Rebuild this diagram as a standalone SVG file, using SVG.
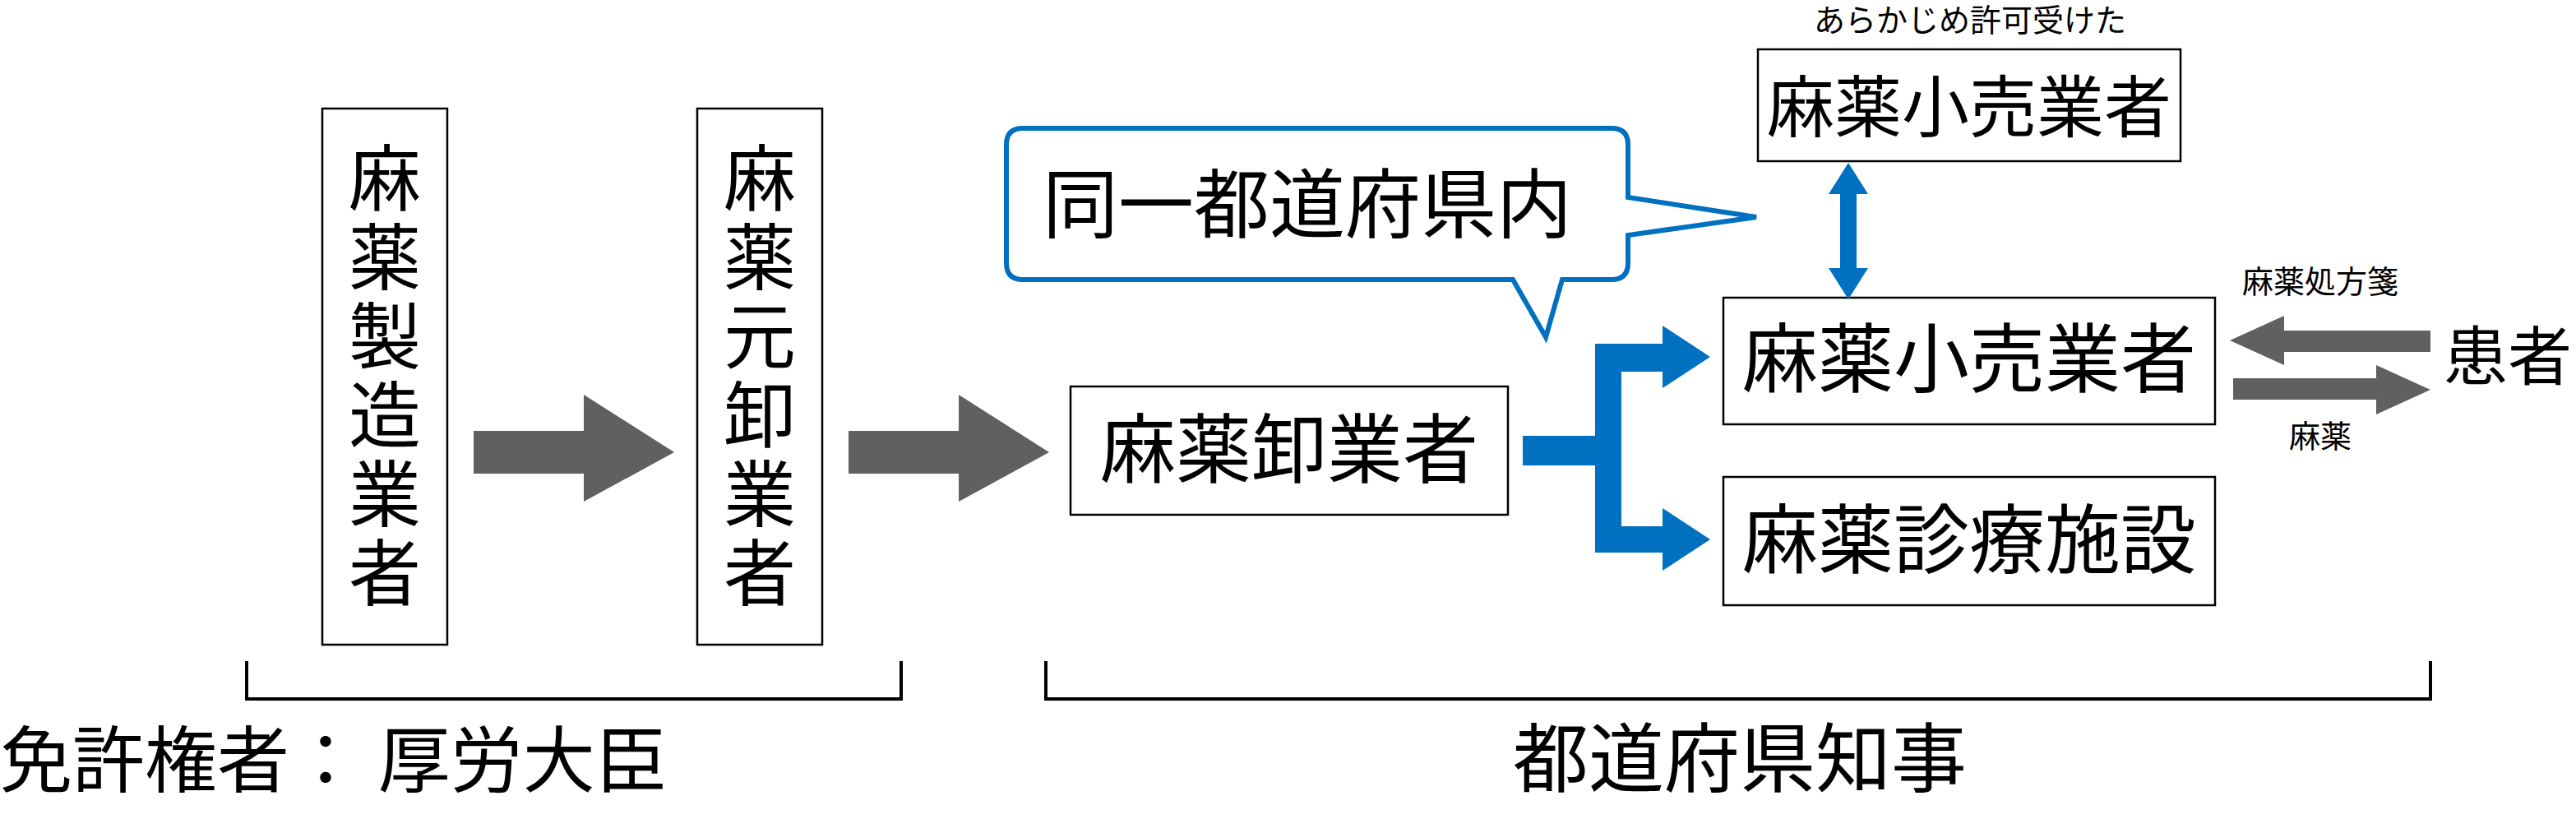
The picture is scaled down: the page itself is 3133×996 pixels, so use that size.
<svg xmlns="http://www.w3.org/2000/svg" width="3133" height="996" viewBox="0 0 3133 996">
<style>
text{font-family:"Noto Sans CJK JP","Noto Sans",sans-serif;fill:#000}
.box{fill:#fff;stroke:#000;stroke-width:2.5}
.big{font-size:92px}
.vert{font-size:88px;writing-mode:tb;glyph-orientation-vertical:0;letter-spacing:8px}
.gray{fill:#606060}
.blue{fill:#0070C0}
</style>
<rect width="3133" height="996" fill="#fff"/>
<g id="n1"><rect class="box" x="392" y="132" width="152" height="652"/>
<text class="vert" x="468" y="172">麻薬製造業者</text></g>
<g id="n2"><rect class="box" x="848" y="132" width="152" height="652"/>
<text class="vert" x="924" y="172">麻薬元卸業者</text></g>
<g id="n3"><rect class="box" x="1302" y="470" width="532" height="156"/><text class="big" x="1568" y="580" text-anchor="middle">麻薬卸業者</text></g>
<g id="callout"><path d="M1244 156 H1960 Q1980 156 1980 176 V240 L2136 264 L1980 286 V320 Q1980 340 1960 340 H1900 L1880 410 L1840 340 H1244 Q1224 340 1224 320 V176 Q1224 156 1244 156 Z" fill="#fff" stroke="#0070C0" stroke-width="6"/>
<text class="big" x="1590" y="282" text-anchor="middle" font-size="94">同一都道府県内</text></g>
<g id="n4"><text x="2396" y="38" font-size="38" text-anchor="middle">あらかじめ許可受けた</text>
<rect class="box" x="2138" y="60" width="514" height="136"/><text x="2395" y="160" font-size="82" text-anchor="middle">麻薬小売業者</text></g>
<g id="n5"><rect class="box" x="2096" y="362" width="598" height="154"/><text class="big" x="2395" y="470" text-anchor="middle">麻薬小売業者</text></g>
<g id="n6"><rect class="box" x="2096" y="580" width="598" height="156"/><text class="big" x="2395" y="690" text-anchor="middle">麻薬診療施設</text></g>
<g id="n7"><text x="2972" y="462" font-size="78">患者</text></g>
<g id="connectors">
<path class="gray" d="M576 524 H710 V480 L820 550 L710 610 V576 H576 Z"/>
<path class="gray" d="M1032 524 H1166 V480 L1276 550 L1166 610 V576 H1032 Z"/>
<path class="blue" d="M1852 530 H1940 V418 H2022 V396 L2080 434 L2022 472 V452 H1972 V640 H2022 V618 L2080 656 L2022 694 V672 H1940 V566 H1852 Z"/>
<path class="blue" d="M2248 198 L2272 236 H2258 V326 H2272 L2248 364 L2224 326 H2238 V236 H2224 Z"/>
<path class="gray" d="M2956 402 V428 H2778 V444 L2712 414 L2778 384 V402 Z"/>
<path class="gray" d="M2716 460 V486 H2890 V504 L2956 474 L2890 444 V460 Z"/>
<text x="2822" y="356" font-size="38" text-anchor="middle">麻薬処方箋</text>
<text x="2822" y="544" font-size="38" text-anchor="middle">麻薬</text>
<path d="M300 804 V850 H1096 V804 M1272 804 V850 H2956 V804" fill="none" stroke="#000" stroke-width="4"/>
</g>
<text x="0" y="956" font-size="88">免許権者： 厚労大臣</text>
<text x="2116" y="956" font-size="92" text-anchor="middle">都道府県知事</text>
</svg>
